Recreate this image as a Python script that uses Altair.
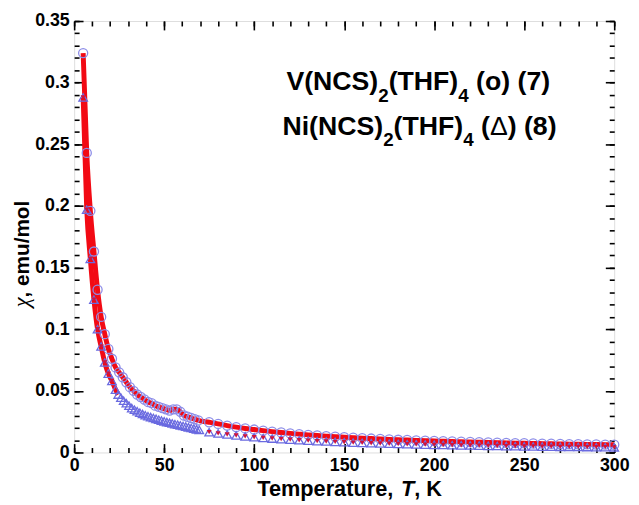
import altair as alt
import pandas as pd

# ---------------- data ----------------
t_v = [5, 7, 9, 11, 13, 15, 17, 19, 21, 23, 25, 27, 29, 31, 33, 35, 37, 39, 41, 43,
       45, 47, 49, 51, 53, 55, 57, 59, 61, 63, 65, 67, 69,
       75, 80, 85, 90, 95, 100, 105, 110, 115, 120, 125, 130, 135, 140, 145, 150,
       155, 160, 165, 170, 175, 180, 185, 190, 195, 200, 205, 210, 215, 220, 225,
       230, 235, 240, 245, 250, 255, 260, 265, 270, 275, 280, 285, 290, 295, 300]
chi_v = [0.324, 0.243, 0.196, 0.163, 0.132, 0.110, 0.096, 0.084, 0.076, 0.069, 0.065,
         0.061, 0.057, 0.053, 0.050, 0.047, 0.045, 0.043, 0.041, 0.040, 0.038, 0.037,
         0.036, 0.035, 0.034, 0.035, 0.035, 0.033, 0.030, 0.029, 0.028, 0.027, 0.026,
         0.0245, 0.0232, 0.0218, 0.0206, 0.0195, 0.0186, 0.0177, 0.0169, 0.0162, 0.0155,
         0.0149, 0.0143, 0.0138, 0.0133, 0.0128, 0.0124, 0.0120, 0.0116, 0.0113, 0.0110,
         0.0106, 0.0103, 0.0101, 0.0098, 0.0096, 0.0093, 0.0091, 0.0089, 0.0087, 0.0085,
         0.0083, 0.0081, 0.0080, 0.0078, 0.0076, 0.0075, 0.0073, 0.0072, 0.0071, 0.0069,
         0.0068, 0.0067, 0.0066, 0.0065, 0.0064, 0.0063]

t_ni = [5, 7, 9, 11, 13, 15, 17, 19, 21, 23,
        24.5, 26, 27.5, 29, 30.5, 32, 33.5, 35, 36.5, 38, 39.5, 41, 42.5, 44, 45.5, 47,
        48.5, 50, 51.5, 53, 54.5, 56, 57.5, 59, 60.5, 62, 63.5, 65, 66.5, 68, 69.5,
        75, 80, 85, 90, 95, 100, 105, 110, 115, 120, 125, 130, 135, 140, 145, 150,
        155, 160, 165, 170, 175, 180, 185, 190, 195, 200, 205, 210, 215, 220, 225,
        230, 235, 240, 245, 250, 255, 260, 265, 270, 275, 280, 285, 290, 295, 300]
chi_ni = [0.288, 0.197, 0.157, 0.124, 0.100, 0.086, 0.073, 0.064, 0.058, 0.051,
          0.047, 0.0445, 0.042, 0.040, 0.038, 0.036, 0.0347, 0.0335, 0.0323, 0.0312,
          0.0302, 0.0294, 0.0287, 0.0280, 0.0273, 0.0266, 0.0259, 0.0253, 0.0247, 0.0241,
          0.0236, 0.0230, 0.0225, 0.0220, 0.0215, 0.0210, 0.0204, 0.0199, 0.0194, 0.0188,
          0.0183,
          0.0165, 0.0155, 0.0146, 0.0138, 0.0131, 0.0124, 0.0118, 0.0113, 0.0108, 0.0104,
          0.0099, 0.0096, 0.0092, 0.0089, 0.0086, 0.0083, 0.0080, 0.0078, 0.0075, 0.0073,
          0.0071, 0.0069, 0.0067, 0.0066, 0.0064, 0.0062, 0.0061, 0.0059, 0.0058, 0.0057,
          0.0056, 0.0054, 0.0053, 0.0052, 0.0051, 0.0050, 0.0049, 0.0048, 0.0047, 0.0046,
          0.0046, 0.0045, 0.0044, 0.0043, 0.0043, 0.0042]

x_major = [0, 50, 100, 150, 200, 250, 300]
x_minor = [0, 10, 20, 30, 40, 50, 60, 70, 80, 90, 100, 110, 120, 130, 140, 150, 160,
           170, 180, 190, 200, 210, 220, 230, 240, 250, 260, 270, 280, 290, 300]
y_major = [0, 0.05, 0.1, 0.15, 0.2, 0.25, 0.3, 0.35]
y_minor = [0, 0.01, 0.02, 0.03, 0.04, 0.05, 0.06, 0.07, 0.08, 0.09, 0.1, 0.11, 0.12,
           0.13, 0.14, 0.15, 0.16, 0.17, 0.18, 0.19, 0.2, 0.21, 0.22, 0.23, 0.24, 0.25,
           0.26, 0.27, 0.28, 0.29, 0.3, 0.31, 0.32, 0.33, 0.34, 0.35]

# ---------------- layout ----------------
W, H = 547, 437
X0, Y0 = 75, 18          # page position of the plot area
FONT = "Liberation Sans"

dv = pd.DataFrame({"T": t_v, "chi": chi_v})
dn = pd.DataFrame({"T": t_ni, "chi": chi_ni})

xs = alt.Scale(domain=[0, 300], nice=False, zero=False)
ys = alt.Scale(domain=[0, 0.35], nice=False, zero=False)


def tick_axis(orient, offset, values, size):
    return alt.Axis(orient=orient, offset=offset, values=values, ticks=True,
                    tickSize=size, tickWidth=1.6, tickColor="black", domain=False,
                    labels=False, title=None, grid=False)


ax_x_lab = alt.Axis(orient="bottom", values=x_major, ticks=False, domain=False,
                    labels=True, labelFont=FONT, labelFontSize=18,
                    labelFontWeight="bold", labelColor="black", labelPadding=4,
                    labelFlush=False, title=None, grid=False)
ax_y_lab = alt.Axis(orient="left", values=y_major, ticks=False, domain=False,
                    labels=True, labelFont=FONT, labelFontSize=18, format="~g",
                    labelFontWeight="bold", labelColor="black", labelPadding=5,
                    labelFlush=False, title=None, grid=False)


def enc(xax, yax):
    return dict(x=alt.X("T:Q", scale=xs, axis=xax),
                y=alt.Y("chi:Q", scale=ys, axis=yax))


line_v = alt.Chart(dv).mark_line(color="#f20a14", strokeWidth=5,
                                 interpolate="monotone").encode(**enc(ax_x_lab, ax_y_lab))
line_n = alt.Chart(dn).transform_filter(alt.datum.T <= 24.5).mark_line(
    color="#f20a14", strokeWidth=5, interpolate="monotone").encode(
    **enc(tick_axis("top", -H, x_major, 9), tick_axis("right", -W, y_major, 9)))
pts_v = alt.Chart(dv).mark_point(shape="circle", filled=False, size=85,
                                 color="#8c8ce8", strokeWidth=1.3, opacity=1).encode(
    **enc(tick_axis("top", -H, x_minor, 5), tick_axis("right", -W, y_minor, 5)))
pts_n = alt.Chart(dn).mark_point(shape="triangle-up", filled=False, size=75,
                                 color="#6a6ae0", strokeWidth=1.3, opacity=1).encode(
    **enc(tick_axis("bottom", -H, x_major, 9), tick_axis("left", -W, y_major, 9)))
red_n = alt.Chart(dn).transform_filter(
    (alt.datum.T < 23) | (alt.datum.T > 70)
).mark_point(shape="triangle-down", filled=True, size=26, color="#d0143c",
             opacity=1).encode(
    **enc(tick_axis("bottom", -H, x_minor, 5), tick_axis("left", -W, y_minor, 5)))

# ---------------- text (titles and label block) ----------------
WID = {"V": .667, "(": .333, ")": .333, "N": .722, "C": .722, "S": .667, "T": .611,
       "H": .722, "F": .611, " ": .278, "o": .611, "7": .556, "8": .556, "2": .556,
       "4": .556, "i": .278, "Δ": .668, "e": .556, "m": .889, "p": .611, "r": .389,
       "a": .556, "t": .333, "u": .611, ",": .278, "K": .722}


def tw(s, size):
    return sum(WID.get(c, .556) for c in s) * size


pieces = []  # (text, page_x, page_y, size, weight, style, font, angle)


def block(x, y, parts, big=27, small=19, drop=12):
    for txt, kind in parts:
        if kind == "sp":
            x += tw(" ", big)
            continue
        if kind == "sub":
            pieces.append((txt, x, y + drop, small, "bold", "normal", FONT, 0))
            x += tw(txt, small)
        elif kind == "thin":
            pieces.append((txt, x, y, big, "normal", "normal", FONT, 0))
            x += tw(txt, big)
        else:
            pieces.append((txt, x, y, big, "bold", "normal", FONT, 0))
            x += tw(txt, big)


block(290, 88, [("V(NCS)", "n"), ("2", "sub"), ("(THF)", "n"), ("4", "sub"),
                (" ", "sp"), ("(o)", "n"), (" ", "sp"), ("(7)", "n")])
block(286, 133, [("Ni(NCS)", "n"), ("2", "sub"), ("(THF)", "n"), ("4", "sub"),
                 (" ", "sp"), ("(", "n"), ("Δ", "thin"), (")", "n"), (" ", "sp"),
                 ("(8)", "n")])

# x-axis title with italic T
ts = 22
tot = tw("Temperature, T, K", ts)
xt = 354 - tot / 2
pieces.append(("Temperature,", xt, 499, ts, "bold", "normal", FONT, 0))
xt += tw("Temperature, ", ts)
pieces.append(("T", xt, 499, ts, "bold", "italic", FONT, 0))
xt += tw("T", ts)
pieces.append((", K", xt, 499, ts, "bold", "normal", FONT, 0))

# y-axis title with italic chi (rotated)
yb = 308
pieces.append(("χ", 29, yb, 23, "normal", "italic", "Liberation Serif", 270))
yb -= 10
pieces.append((", emu/mol", 29, yb, 21, "bold", "normal", FONT, 270))

one = pd.DataFrame({"k": [0]})
text_layers = []
for txt, px, py, size, weight, style, font, angle in pieces:
    text_layers.append(
        alt.Chart(one).mark_text(text=txt, align="left", baseline="alphabetic",
                                 font=font, fontSize=size, fontWeight=weight,
                                 fontStyle=style, color="black", angle=angle).encode(
            x=alt.value(px - X0), y=alt.value(py - Y0)))

chart = alt.layer(line_n, line_v, pts_v, pts_n, red_n, *text_layers).resolve_axis(
    x="independent", y="independent"
).properties(
    width=W, height=H,
    autosize=alt.AutoSizeParams(type="none"),
    padding={"left": X0 - 8, "top": Y0 - 8, "right": 639 - 8 - (X0 - 8) - W,
             "bottom": 505 - 8 - (Y0 - 8) - H},
).configure_view(stroke="black", strokeWidth=2).configure(background="white")

chart.save("out.html", embed_options={"renderer": "svg", "actions": False})
